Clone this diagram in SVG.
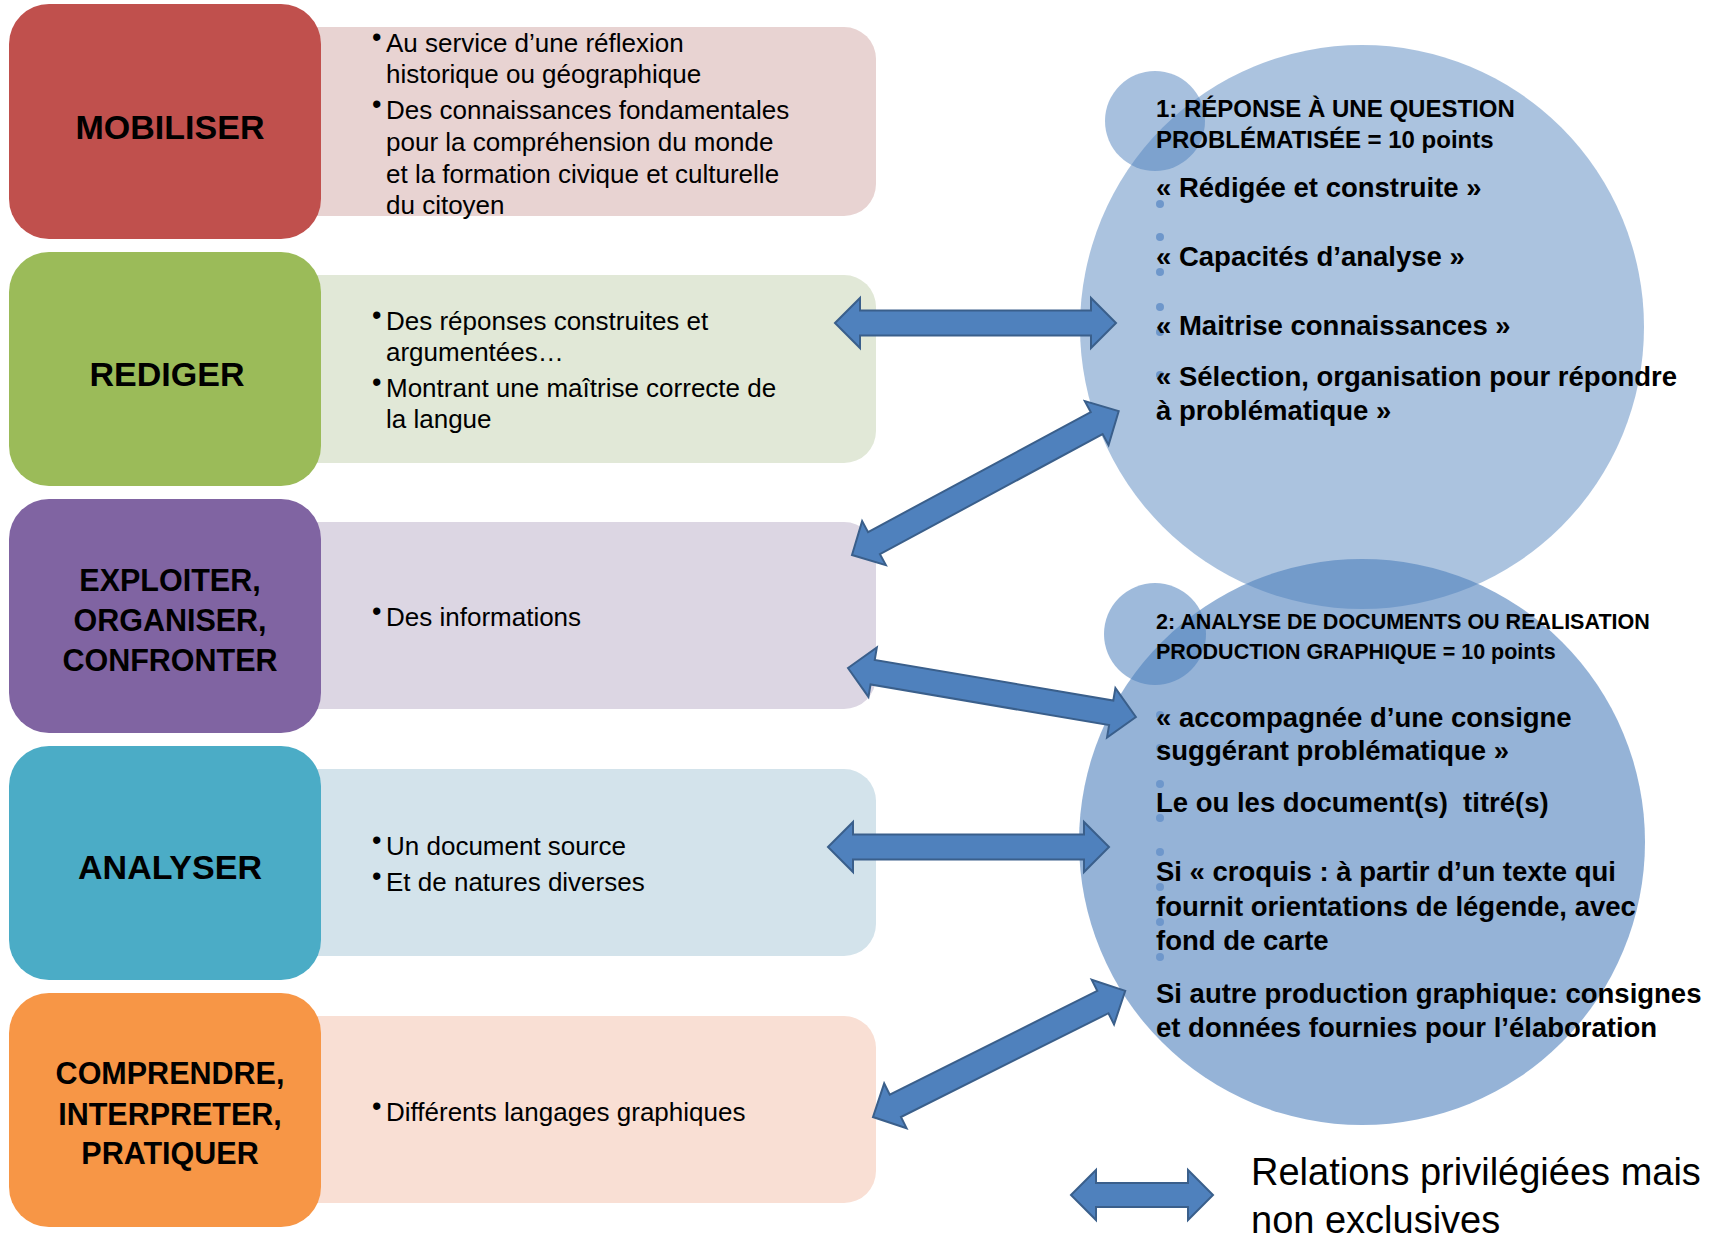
<svg xmlns="http://www.w3.org/2000/svg" width="1716" height="1241" viewBox="0 0 1716 1241">
<style>
text { font-family: 'Liberation Sans', Arial, sans-serif; fill: #000; }
.lbl { font-weight: bold; text-anchor: middle; }
.lg { font-size: 34px; }
.md { font-size: 30.5px; }
.bt { font-size: 26px; }
.bu { font-size: 27px; }
.h1 { font-weight: bold; font-size: 24px; }
.h2 { font-weight: bold; font-size: 21.5px; }
.ct { font-weight: bold; font-size: 27.5px; white-space: pre; }
.leg { font-size: 38px; }
.arrow { fill: #4F81BD; stroke: #3A5F8B; stroke-width: 2; stroke-linejoin: miter; }
.dot { fill: #6E97CB; }
.bigc { fill: #4F81BD; }
</style>

<!-- description boxes -->
<g id="mobiliser-desc">
  <path d="M300,27 H844 A32,32 0 0 1 876,59 V184 A32,32 0 0 1 844,216 H300 Z" fill="#E8D3D2"/>
  <text class="bu" x="372" y="46">•</text>
  <text class="bt" x="386" y="52">Au service d’une réflexion</text>
  <text class="bt" x="386" y="83">historique ou géographique</text>
  <text class="bu" x="372" y="113">•</text>
  <text class="bt" x="386" y="119">Des connaissances fondamentales</text>
  <text class="bt" x="386" y="151">pour la compréhension du monde</text>
  <text class="bt" x="386" y="183">et la formation civique et culturelle</text>
  <text class="bt" x="386" y="214">du citoyen</text>
</g>
<g id="rediger-desc">
  <path d="M300,275 H844 A32,32 0 0 1 876,307 V431 A32,32 0 0 1 844,463 H300 Z" fill="#E1E8D7"/>
  <text class="bu" x="372" y="324">•</text>
  <text class="bt" x="386" y="330">Des réponses construites et</text>
  <text class="bt" x="386" y="361">argumentées…</text>
  <text class="bu" x="372" y="391">•</text>
  <text class="bt" x="386" y="397">Montrant une maîtrise correcte de</text>
  <text class="bt" x="386" y="428">la langue</text>
</g>
<g id="exploiter-desc">
  <path d="M300,522 H844 A32,32 0 0 1 876,554 V677 A32,32 0 0 1 844,709 H300 Z" fill="#DCD6E3"/>
  <text class="bu" x="372" y="620">•</text>
  <text class="bt" x="386" y="626">Des informations</text>
</g>
<g id="analyser-desc">
  <path d="M300,769 H844 A32,32 0 0 1 876,801 V924 A32,32 0 0 1 844,956 H300 Z" fill="#D3E3EB"/>
  <text class="bu" x="372" y="849">•</text>
  <text class="bt" x="386" y="855">Un document source</text>
  <text class="bu" x="372" y="885">•</text>
  <text class="bt" x="386" y="891">Et de natures diverses</text>
</g>
<g id="comprendre-desc">
  <path d="M300,1016 H844 A32,32 0 0 1 876,1048 V1171 A32,32 0 0 1 844,1203 H300 Z" fill="#F9DFD4"/>
  <text class="bu" x="372" y="1115">•</text>
  <text class="bt" x="386" y="1121">Différents langages graphiques</text>
</g>

<!-- label boxes -->
<g id="mobiliser">
  <rect x="9" y="4" width="312" height="235" rx="40" ry="40" fill="#C0504D"/>
  <text class="lbl lg" x="170" y="139">MOBILISER</text>
</g>
<g id="rediger">
  <rect x="9" y="252" width="312" height="234" rx="40" ry="40" fill="#9BBB59"/>
  <text class="lbl lg" x="167" y="386">REDIGER</text>
</g>
<g id="exploiter">
  <rect x="9" y="499" width="312" height="234" rx="40" ry="40" fill="#8064A2"/>
  <text class="lbl md" x="170" y="591">EXPLOITER,</text>
  <text class="lbl md" x="170" y="631">ORGANISER,</text>
  <text class="lbl md" x="170" y="671">CONFRONTER</text>
</g>
<g id="analyser">
  <rect x="9" y="746" width="312" height="234" rx="40" ry="40" fill="#4BACC6"/>
  <text class="lbl lg" x="170" y="879">ANALYSER</text>
</g>
<g id="comprendre">
  <rect x="9" y="993" width="312" height="234" rx="40" ry="40" fill="#F79646"/>
  <text class="lbl md" x="170" y="1084">COMPRENDRE,</text>
  <text class="lbl md" x="170" y="1125">INTERPRETER,</text>
  <text class="lbl md" x="170" y="1164">PRATIQUER</text>
</g>

<!-- right circles -->
<g id="part1">
  <circle class="bigc" cx="1362" cy="327" r="282" fill-opacity="0.48"/>
  <circle class="bigc" cx="1155" cy="121" r="50" fill-opacity="0.5"/>
  <circle class="dot" cx="1160" cy="204" r="4"/>
  <circle class="dot" cx="1160" cy="237" r="4"/>
  <circle class="dot" cx="1160" cy="272" r="4"/>
  <circle class="dot" cx="1160" cy="307" r="4"/>
  <circle class="dot" cx="1160" cy="332" r="4"/>
  <circle class="dot" cx="1160" cy="375" r="4"/>
  <text class="h1" x="1156" y="117">1: RÉPONSE À UNE QUESTION</text>
  <text class="h1" x="1156" y="148">PROBLÉMATISÉE = 10 points</text>
  <text class="ct" x="1156" y="197">« Rédigée et construite »</text>
  <text class="ct" x="1156" y="266">« Capacités d’analyse »</text>
  <text class="ct" x="1156" y="335">« Maitrise connaissances »</text>
  <text class="ct" x="1156" y="386">« Sélection, organisation pour répondre</text>
  <text class="ct" x="1156" y="420">à problématique »</text>
</g>
<g id="part2">
  <circle class="bigc" cx="1362" cy="842" r="283" fill-opacity="0.6"/>
  <circle class="bigc" cx="1155" cy="634" r="51" fill-opacity="0.55"/>
  <circle class="dot" cx="1160" cy="715" r="4"/>
  <circle class="dot" cx="1160" cy="748" r="4"/>
  <circle class="dot" cx="1160" cy="784" r="4"/>
  <circle class="dot" cx="1160" cy="818" r="4"/>
  <circle class="dot" cx="1160" cy="852" r="4"/>
  <circle class="dot" cx="1160" cy="887" r="4"/>
  <circle class="dot" cx="1160" cy="922" r="4"/>
  <circle class="dot" cx="1160" cy="957" r="4"/>
  <text class="h2" x="1156" y="629">2: ANALYSE DE DOCUMENTS OU REALISATION</text>
  <text class="h2" x="1156" y="659">PRODUCTION GRAPHIQUE = 10 points</text>
  <text class="ct" x="1156" y="727">« accompagnée d’une consigne</text>
  <text class="ct" x="1156" y="760">suggérant problématique »</text>
  <text class="ct" x="1156" y="812">Le ou les document(s)  titré(s)</text>
  <text class="ct" x="1156" y="881">Si « croquis : à partir d’un texte qui</text>
  <text class="ct" x="1156" y="916">fournit orientations de légende, avec</text>
  <text class="ct" x="1156" y="950">fond de carte</text>
  <text class="ct" x="1156" y="1003">Si autre production graphique: consignes</text>
  <text class="ct" x="1156" y="1037">et données fournies pour l’élaboration</text>
</g>

<!-- connectors -->
<g id="connectors">
  <path class="arrow" transform="translate(835,323)" d="M0,0 L25,-25 L25,-12.5 L256,-12.5 L256,-25 L281,0 L256,25 L256,12.5 L25,12.5 L25,25 Z"/>
  <path class="arrow" transform="translate(852,555) rotate(-28.34)" d="M0,0 L25,-25 L25,-12.5 L278,-12.5 L278,-25 L303,0 L278,25 L278,12.5 L25,12.5 L25,25 Z"/>
  <path class="arrow" transform="translate(848,668) rotate(9.66)" d="M0,0 L25,-25 L25,-12.5 L267,-12.5 L267,-25 L292,0 L267,25 L267,12.5 L25,12.5 L25,25 Z"/>
  <path class="arrow" transform="translate(828,847)" d="M0,0 L25,-25 L25,-12.5 L256,-12.5 L256,-25 L281,0 L256,25 L256,12.5 L25,12.5 L25,25 Z"/>
  <path class="arrow" transform="translate(873,1117) rotate(-26.57)" d="M0,0 L25,-25 L25,-12.5 L257,-12.5 L257,-25 L282,0 L257,25 L257,12.5 L25,12.5 L25,25 Z"/>
</g>

<!-- legend -->
<g id="legend">
  <path class="arrow" transform="translate(1071,1195)" d="M0,0 L25,-25 L25,-12 L117,-12 L117,-25 L142,0 L117,25 L117,12 L25,12 L25,25 Z"/>
  <text class="leg" x="1251" y="1185">Relations privilégiées mais</text>
  <text class="leg" x="1251" y="1233">non exclusives</text>
</g>
</svg>
